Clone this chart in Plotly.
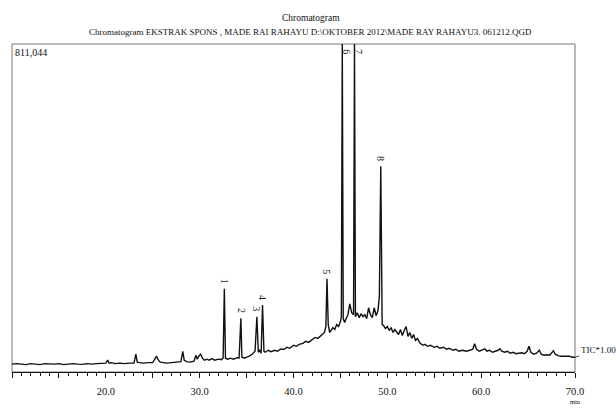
import plotly.graph_objects as go

# Retention time (min) and TIC intensity (counts)
ret_time = [
    10.0, 10.5, 11.0, 11.5, 12.0, 12.5, 13.0, 13.5, 14.0, 14.5, 15.0, 15.5, 16.0, 16.5,
    17.0, 17.5, 18.0, 18.5, 19.0, 19.5, 20.0, 20.2, 20.35, 20.6, 21.0, 21.5, 22.0, 22.5,
    23.0, 23.2, 23.35, 23.6, 24.0, 24.5, 25.0, 25.4, 25.6, 25.8, 26.0, 26.5, 27.0, 27.5,
    28.0, 28.2, 28.35, 28.6, 29.0, 29.4, 29.6, 29.75, 29.9, 30.1, 30.3, 30.5, 30.8, 31.0,
    31.3, 31.6, 32.0, 32.3, 32.5, 32.63, 32.75, 33.0, 33.3, 33.6, 34.0, 34.2, 34.39, 34.5,
    34.8, 35.0, 35.3, 35.6, 35.9, 36.1, 36.25, 36.4, 36.55, 36.7, 36.85, 37.0, 37.3, 37.6,
    38.0, 38.3, 38.6, 39.0, 39.3, 39.6, 40.0, 40.3, 40.6, 41.0, 41.3, 41.6, 42.0, 42.3,
    42.6, 43.0, 43.3, 43.45, 43.57, 43.7, 43.85, 44.0, 44.2, 44.4, 44.6, 44.8, 45.0, 45.1,
    45.2, 45.3, 45.45, 45.6, 45.8, 46.0, 46.2, 46.4, 46.5, 46.6, 46.8, 47.0, 47.2, 47.4,
    47.6, 47.8, 48.0, 48.2, 48.4, 48.6, 48.8, 49.0, 49.15, 49.3, 49.45, 49.6, 49.8, 50.0,
    50.2, 50.4, 50.6, 50.8, 51.0, 51.2, 51.4, 51.6, 51.8, 52.0, 52.2, 52.4, 52.6, 52.8,
    53.0, 53.2, 53.5, 53.8, 54.0, 54.3, 54.6, 55.0, 55.3, 55.6, 56.0, 56.3, 56.6, 57.0,
    57.3, 57.6, 58.0, 58.4, 58.8, 59.1, 59.3, 59.5, 59.8, 60.1, 60.4, 60.6, 60.9, 61.2,
    61.5, 61.8, 62.0, 62.2, 62.5, 62.8, 63.1, 63.4, 63.7, 64.0, 64.3, 64.6, 64.9, 65.1,
    65.3, 65.6, 65.9, 66.2, 66.4, 66.7, 67.0, 67.3, 67.7, 67.9, 68.2, 68.5, 68.8, 69.1,
    69.4, 69.7, 70.0,
]
intensity = [
    19500, 20800, 19500, 18300, 20800, 19500, 18300, 20800, 19500, 19500, 20800, 18300, 19500, 20800,
    19500, 18900, 20800, 19500, 20800, 20800, 22000, 29300, 22000, 23200, 20800, 22000, 20800, 22000,
    22000, 44000, 24400, 23200, 22000, 23200, 23200, 39100, 29300, 24400, 23200, 22000, 23200, 24400,
    25700, 51300, 29300, 25700, 24400, 26900, 41500, 31800, 39100, 44000, 34200, 29300, 31800, 29300,
    33000, 29300, 31800, 30500, 34200, 206000, 34200, 31800, 34200, 31800, 35400, 34200, 132700, 36600,
    34200, 36600, 39100, 44000, 51300, 136800, 48900, 53700, 46400, 165400, 51300, 48900, 53700, 50100,
    53700, 51300, 56200, 56200, 61100, 58600, 66000, 63500, 68400, 70800, 75700, 73300, 80600, 85500,
    83100, 90400, 97700, 112400, 230400, 117300, 97700, 102600, 109900, 105000, 117300, 112400, 124600, 136800,
    811044, 131900, 122200, 131900, 141700, 168600, 146600, 141700, 811044, 136800, 146600, 134400, 144100, 136800,
    141700, 131900, 158800, 141700, 134400, 158800, 139300, 151500, 185700, 508900, 117300, 114800, 107500, 112400,
    102600, 109900, 97700, 105000, 100200, 92800, 105000, 90400, 102600, 112400, 87900, 97700, 83100, 92800,
    78200, 83100, 70800, 66000, 68400, 63500, 66000, 61100, 63500, 58600, 61100, 56200, 58600, 53700,
    56200, 51300, 53700, 51300, 53700, 56200, 69600, 56200, 51300, 53700, 57400, 51300, 53700, 48900,
    51300, 53700, 57400, 51300, 48900, 51300, 46400, 48900, 45200, 46400, 47600, 45200, 51300, 63500,
    48900, 44000, 46400, 53700, 44000, 41500, 42800, 41500, 52500, 44000, 40300, 39100, 39100, 37900,
    39100, 36600, 36600,
]

# Labelled peaks
peak_labels = ["1", "2", "3", "4", "5", "6", "7", "8"]
peak_times = [32.63, 34.39, 36.1, 36.7, 43.57, 45.2, 46.5, 49.3]
peak_heights = [206000, 132700, 136800, 165400, 230400, 811044, 811044, 508900]

# Axis
y_max = 811044
x_range = [10, 70]
tick_vals = [10, 15, 20, 25, 30, 35, 40, 45, 50, 55, 60, 65, 70]
tick_text = ["", "", "20.0", "", "30.0", "", "40.0", "", "50.0", "", "60.0", "", "70.0"]

title_1 = "Chromatogram"
title_2 = "Chromatogram EKSTRAK SPONS , MADE RAI RAHAYU D:\\OKTOBER 2012\\MADE RAY RAHAYU3. 061212.QGD"
max_label = "811,044"
trace_label = "TIC*1.00"

FONT = "Liberation Serif, Times New Roman, Times, serif"

fig = go.Figure()
fig.add_trace(go.Scatter(
    x=ret_time, y=intensity, mode="lines",
    line=dict(color="#111111", width=1.4),
    showlegend=False, hoverinfo="skip", cliponaxis=True,
))

annotations = []
for lab, t, h in zip(peak_labels, peak_times, peak_heights):
    if h >= y_max * 0.99:
        annotations.append(dict(x=t, y=y_max, xref="x", yref="y", text=lab, showarrow=False,
                                textangle=90, xanchor="center", yanchor="top",
                                xshift=4, yshift=-3, font=dict(family=FONT, size=10, color="#222")))
    else:
        annotations.append(dict(x=t, y=h, xref="x", yref="y", text=lab, showarrow=False,
                                textangle=90, xanchor="center", yanchor="bottom",
                                yshift=3, font=dict(family=FONT, size=10, color="#222")))

annotations += [
    dict(x=0.531, y=1.078, xref="paper", yref="paper", text=title_1, showarrow=False,
         xanchor="center", yanchor="middle", font=dict(family=FONT, size=9.5, color="#111")),
    dict(x=0.531, y=1.036, xref="paper", yref="paper", text=title_2, showarrow=False,
         xanchor="center", yanchor="middle", font=dict(family=FONT, size=9, color="#111")),
    dict(x=0.002, y=0.997, xref="paper", yref="paper", text=max_label, showarrow=False,
         xanchor="left", yanchor="top", font=dict(family=FONT, size=10, color="#111")),
    dict(x=ret_time[-1], y=intensity[-1], xref="x", yref="y", text=trace_label, showarrow=True,
         arrowhead=0, arrowwidth=0.8, arrowcolor="#111", ax=23, ay=-7, xanchor="center",
         font=dict(family=FONT, size=9, color="#111")),
    dict(x=70, y=-0.089, xref="x", yref="paper", text="min", showarrow=False,
         xanchor="center", yanchor="middle", font=dict(family=FONT, size=6.5, color="#111")),
]

fig.update_layout(
    width=616, height=409,
    margin=dict(l=12, r=41, t=44, b=33),
    paper_bgcolor="white", plot_bgcolor="white",
    annotations=annotations,
    shapes=[dict(type="rect", xref="paper", yref="paper", x0=0, y0=0, x1=1, y1=1,
                 line=dict(color="#777777", width=1), layer="below")],
    xaxis=dict(range=x_range, tickmode="array", tickvals=tick_vals, ticktext=tick_text,
               ticks="outside", ticklen=5, tickcolor="#111", tickwidth=1,
               minor=dict(dtick=1, tick0=10, ticks="outside", ticklen=3, tickcolor="#111"),
               showline=True, linecolor="#111", linewidth=1, showgrid=False, zeroline=False,
               tickfont=dict(family=FONT, size=10.5, color="#111"), ticklabelstandoff=4),
    yaxis=dict(range=[0, y_max], showticklabels=False, showgrid=False, zeroline=False,
               showline=False, ticks=""),
)

fig.write_html("out.html", config={"displayModeBar": False},
               post_script="document.body.style.margin='0';")
